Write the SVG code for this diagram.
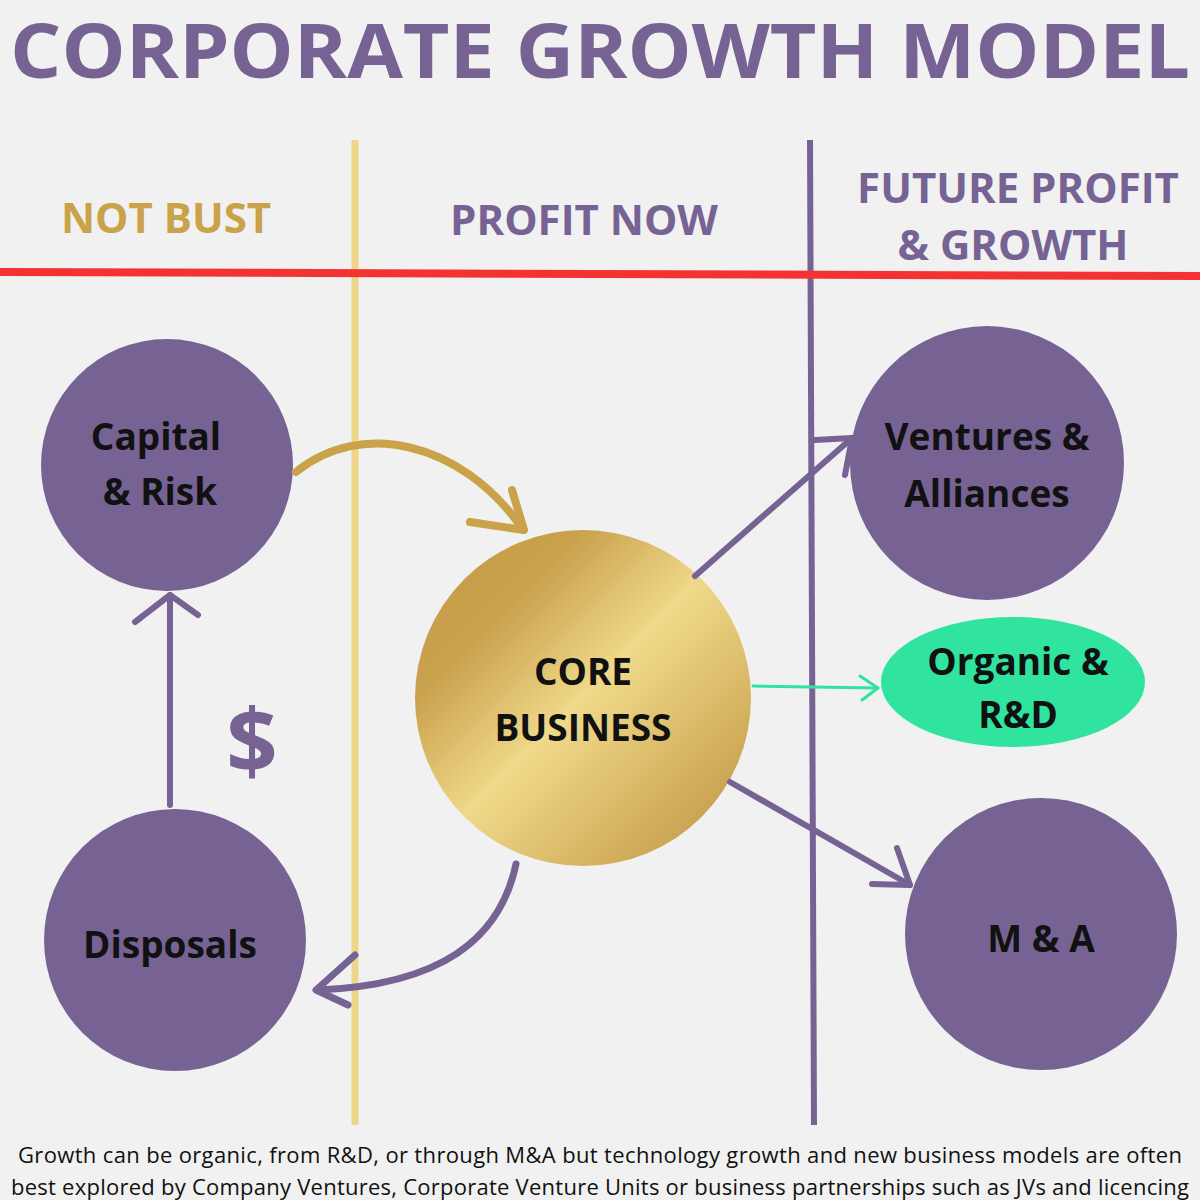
<svg xmlns="http://www.w3.org/2000/svg" width="1200" height="1200" viewBox="0 0 1200 1200">
<defs>
<style>
.t{font-family:"Open Sans","Liberation Sans",sans-serif;font-weight:bold}
.n{font-family:"Open Sans","Liberation Sans",sans-serif;font-weight:bold;font-size:37px;fill:#111;text-anchor:middle}
.p{fill:#766394}
.ln{fill:none;stroke-linecap:round;stroke-linejoin:round}
.f{font-family:"Open Sans","Liberation Sans",sans-serif;font-size:22px;fill:#111;text-anchor:middle}
</style>
<linearGradient id="g" x1="0" y1="0" x2="1" y2="1">
<stop offset="0" stop-color="#c49a45"/><stop offset="0.25" stop-color="#c9a24e"/><stop offset="0.5" stop-color="#f0d98a"/><stop offset="0.75" stop-color="#d6b461"/><stop offset="1" stop-color="#b98e3e"/>
</linearGradient>
</defs>
<rect width="1200" height="1200" fill="#f0f1f0"/>
<text class="t" x="10" y="78" font-size="76" fill="#766394" textLength="1180" lengthAdjust="spacingAndGlyphs">CORPORATE GROWTH MODEL</text>
<text class="t" x="166" y="233" font-size="42" fill="#c9a24a" text-anchor="middle">NOT BUST</text>
<text class="t" x="584" y="235" font-size="42" fill="#766394" text-anchor="middle">PROFIT NOW</text>
<text class="t" x="1018" y="203" font-size="42" fill="#766394" text-anchor="middle">FUTURE PROFIT</text>
<text class="t" x="1013" y="260" font-size="42" fill="#766394" text-anchor="middle">&amp; GROWTH</text>
<line x1="355" y1="140" x2="355" y2="1125" stroke="#efd58a" stroke-width="7"/>
<line x1="810" y1="140" x2="814" y2="1125" stroke="#766394" stroke-width="6"/>
<line x1="0" y1="272" x2="1200" y2="276" stroke="#f53232" stroke-width="8"/>
<g id="capital"><circle class="p" cx="167" cy="465" r="126"/><text class="n" x="156" y="450">Capital</text><text class="n" x="160" y="505">&amp; Risk</text></g>
<g id="disposals"><circle class="p" cx="175" cy="940" r="131"/><text class="n" x="170" y="958">Disposals</text></g>
<g id="core"><circle cx="583" cy="698" r="168" fill="url(#g)"/><text class="n" x="583" y="685">CORE</text><text class="n" x="583" y="741">BUSINESS</text></g>
<g id="ventures"><circle class="p" cx="987" cy="463" r="137"/><text class="n" x="987" y="450">Ventures &amp;</text><text class="n" x="987" y="507">Alliances</text></g>
<g id="organic"><ellipse cx="1013" cy="682" rx="132" ry="65" fill="#30e39e"/><text class="n" x="1018" y="675">Organic &amp;</text><text class="n" x="1018" y="728">R&amp;D</text></g>
<g id="ma"><circle class="p" cx="1041" cy="934" r="136"/><text class="n" x="1041" y="952">M &amp; A</text></g>
<text class="t" x="252" y="773" font-size="90" fill="#766394" text-anchor="middle">$</text>
<g id="connectors">
<path class="ln" d="M296,472 C360,420 460,440 522,528" stroke="#c9a24a" stroke-width="8"/>
<path class="ln" d="M470,522 L524,530 L512,490" stroke="#c9a24a" stroke-width="8"/>
<path class="ln" d="M170,805 L170,595" stroke="#766394" stroke-width="6"/>
<path class="ln" d="M135,622 L170,595 L198,615" stroke="#766394" stroke-width="6"/>
<path class="ln" d="M516,864 C500,940 440,985 318,990" stroke="#766394" stroke-width="7"/>
<path class="ln" d="M355,955 L316,990 L348,1005" stroke="#766394" stroke-width="7"/>
<path class="ln" d="M695,576 L852,438" stroke="#766394" stroke-width="6"/>
<path class="ln" d="M815,440 L852,438 L845,475" stroke="#766394" stroke-width="6"/>
<path class="ln" d="M753,686 L878,688" stroke="#30e39e" stroke-width="3"/>
<path class="ln" d="M860,676 L878,688 L862,700" stroke="#30e39e" stroke-width="3"/>
<path class="ln" d="M730,782 L910,885" stroke="#766394" stroke-width="6"/>
<path class="ln" d="M872,884 L910,885 L897,848" stroke="#766394" stroke-width="6"/>
</g>
<text class="f" x="600" y="1163" textLength="1164">Growth can be organic, from R&amp;D, or through M&amp;A but technology growth and new business models are often</text>
<text class="f" x="600" y="1195" textLength="1178">best explored by Company Ventures, Corporate Venture Units or business partnerships such as JVs and licencing</text>
</svg>
